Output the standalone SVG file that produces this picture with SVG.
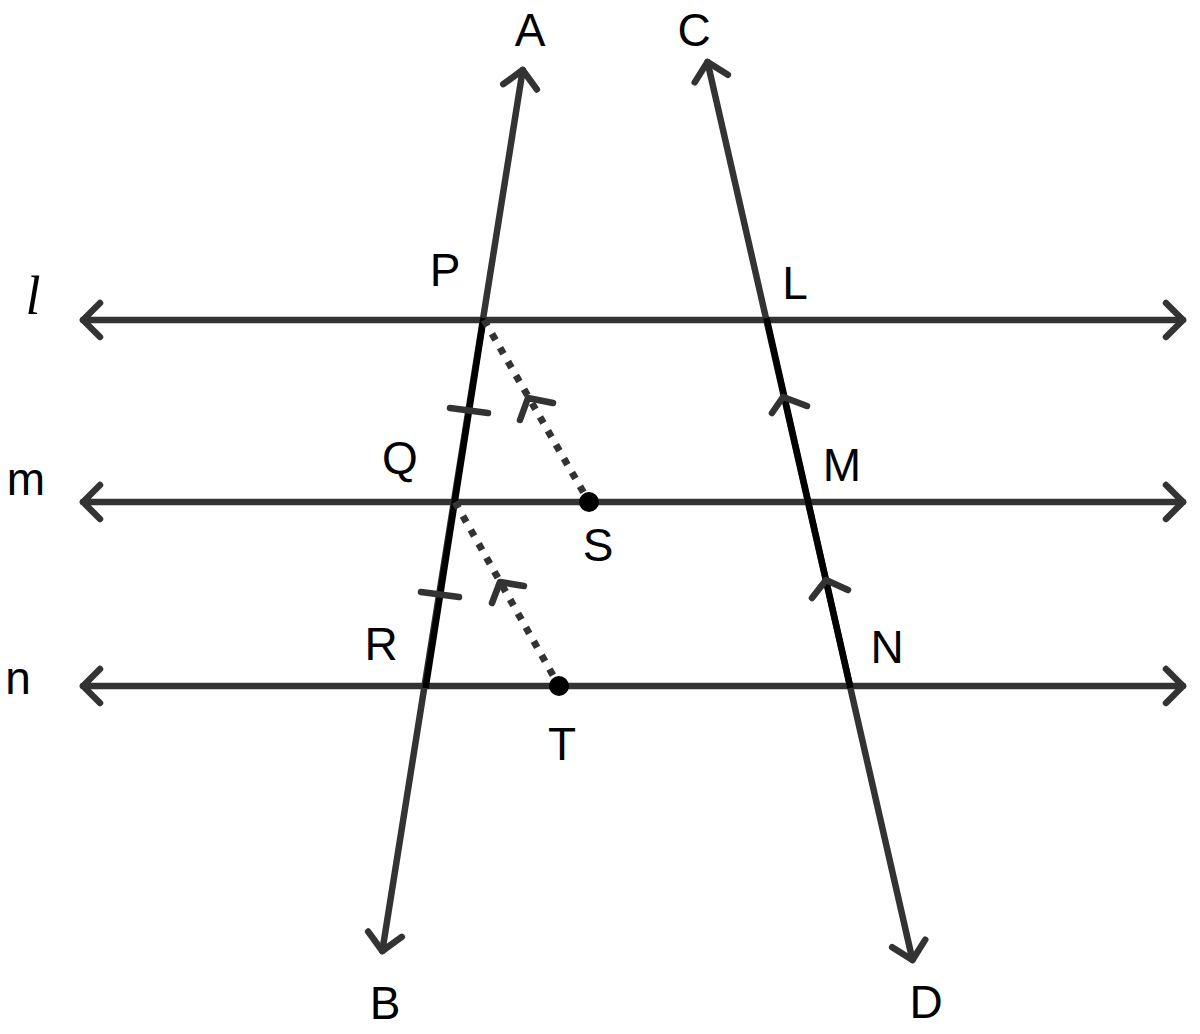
<svg xmlns="http://www.w3.org/2000/svg" width="1200" height="1034" viewBox="0 0 1200 1034">
<style>
.ln{stroke:#333;stroke-width:6.5;fill:none;stroke-linecap:round}
.blk{stroke:#000;stroke-width:6.5;fill:none;stroke-linecap:butt}
.dot{stroke:#333;stroke-width:7;fill:none;stroke-dasharray:7 9}
.mk{stroke:#333;stroke-width:6.5;fill:none;stroke-linecap:round;stroke-linejoin:round}
.lbl{font-family:"Liberation Sans",Arial,sans-serif;font-size:46px;fill:#000;text-anchor:middle}
</style>
<defs>
<marker id="chev" markerUnits="userSpaceOnUse" markerWidth="40" markerHeight="40" refX="0" refY="0" viewBox="-30 -20 40 40" orient="auto-start-reverse" overflow="visible">
<path d="M -17 -17 L 0 0 L -17 17" stroke="#333" stroke-width="6.5" fill="none" stroke-linecap="round" stroke-linejoin="round"/>
</marker>
</defs>
<g id="connectors">
<line id="line-l" class="ln" x1="83" y1="320" x2="1183" y2="320" marker-start="url(#chev)" marker-end="url(#chev)"/>
<line id="line-m" class="ln" x1="83" y1="502" x2="1183" y2="502" marker-start="url(#chev)" marker-end="url(#chev)"/>
<line id="line-n" class="ln" x1="83" y1="686" x2="1183" y2="686" marker-start="url(#chev)" marker-end="url(#chev)"/>
<line id="line-AB" class="ln" x1="522.7" y1="70" x2="382.3" y2="951" marker-start="url(#chev)" marker-end="url(#chev)"/>
<line id="line-CD" class="ln" x1="707.5" y1="62" x2="912.5" y2="960" marker-start="url(#chev)" marker-end="url(#chev)"/>
<line id="seg-PR" class="blk" x1="483.6" y1="318" x2="425.6" y2="688"/>
<line id="seg-LN" class="blk" x1="766.5" y1="318" x2="850.5" y2="688"/>
<line id="seg-PS" class="dot" x1="484" y1="320" x2="589" y2="502"/>
<line id="seg-QT" class="dot" x1="455" y1="502" x2="559" y2="686"/>
<path class="mk" d="M 520 420 L 528 398 L 553 403"/>
<path class="mk" d="M 492 603 L 500 582 L 524 586"/>
<path class="mk" d="M 772 413 L 783 397 L 807 406"/>
<path class="mk" d="M 812 598 L 826 580 L 848 590"/>
<line class="mk" x1="450" y1="408" x2="488" y2="413"/>
<line class="mk" x1="421" y1="592" x2="459" y2="597"/>
</g>
<g id="point-S"><circle cx="589" cy="502" r="10" fill="#000"/><text class="lbl" x="598" y="561">S</text></g>
<g id="point-T"><circle cx="559" cy="686" r="10" fill="#000"/><text class="lbl" x="562" y="760">T</text></g>
<g id="label-A"><text class="lbl" x="530" y="46">A</text></g>
<g id="label-C"><text class="lbl" x="694" y="46">C</text></g>
<g id="label-P"><text class="lbl" x="445" y="286">P</text></g>
<g id="label-L"><text class="lbl" x="795" y="299">L</text></g>
<g id="label-Q"><text class="lbl" x="400" y="474">Q</text></g>
<g id="label-M"><text class="lbl" x="842" y="481">M</text></g>
<g id="label-R"><text class="lbl" x="381" y="660">R</text></g>
<g id="label-N"><text class="lbl" x="887" y="663">N</text></g>
<g id="label-B"><text class="lbl" x="385" y="1019">B</text></g>
<g id="label-D"><text class="lbl" x="926" y="1018">D</text></g>
<g id="label-l"><text x="33" y="314" style="font-family:'Liberation Serif','Times New Roman',serif;font-style:italic;font-size:54px;text-anchor:middle;fill:#000">l</text></g>
<g id="label-m"><text class="lbl" x="26" y="495">m</text></g>
<g id="label-n"><text class="lbl" x="18" y="694">n</text></g>
</svg>
